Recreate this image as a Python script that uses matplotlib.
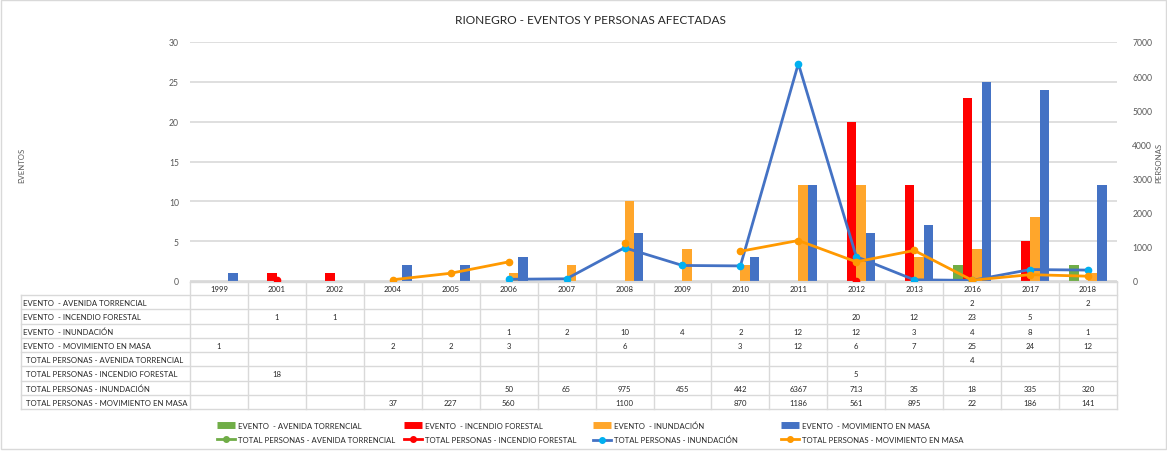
import numpy as np
import matplotlib
matplotlib.use("Agg")
import matplotlib.pyplot as plt
from matplotlib.lines import Line2D
from matplotlib.patches import Rectangle
from matplotlib import font_manager

N = np.nan
years = ["1999", "2001", "2002", "2004", "2005", "2006", "2007", "2008",
         "2009", "2010", "2011", "2012", "2013", "2016", "2017", "2018"]
ev_avenida    = [N, N, N, N, N, N, N, N, N, N, N, N, N, 2, N, 2]
ev_incendio   = [N, 1, 1, N, N, N, N, N, N, N, N, 20, 12, 23, 5, N]
ev_inundacion = [N, N, N, N, N, 1, 2, 10, 4, 2, 12, 12, 3, 4, 8, 1]
ev_movimiento = [1, N, N, 2, 2, 3, N, 6, N, 3, 12, 6, 7, 25, 24, 12]
tp_avenida    = [N, N, N, N, N, N, N, N, N, N, N, N, N, 4, N, N]
tp_incendio   = [N, 18, N, N, N, N, N, N, N, N, N, 5, N, N, N, N]
tp_inundacion = [N, N, N, N, N, 50, 65, 975, 455, 442, 6367, 713, 35, 18, 335, 320]
tp_movimiento = [N, N, N, 37, 227, 560, N, 1100, N, 870, 1186, 561, 895, 22, 186, 141]

row_labels = ["EVENTO  - AVENIDA TORRENCIAL", "EVENTO  - INCENDIO FORESTAL",
              "EVENTO  - INUNDACIÓN", "EVENTO  - MOVIMIENTO EN MASA",
              "TOTAL PERSONAS - AVENIDA TORRENCIAL", "TOTAL PERSONAS - INCENDIO FORESTAL",
              "TOTAL PERSONAS - INUNDACIÓN", "TOTAL PERSONAS - MOVIMIENTO EN MASA"]
legend_labels = ["EVENTO  - AVENIDA TORRENCIAL", "EVENTO  - INCENDIO FORESTAL",
                 "EVENTO  - INUNDACIÓN", "EVENTO  - MOVIMIENTO EN MASA",
                 "TOTAL PERSONAS - AVENIDA TORRENCIAL", "TOTAL PERSONAS - INCENDIO FORESTAL",
                 "TOTAL PERSONAS - INUNDACIÓN", "TOTAL PERSONAS - MOVIMIENTO EN MASA"]

C_GREEN = "#70AD47"
C_RED = "#FF0000"
C_ORANGE = "#FFA62B"
C_BLUE = "#4472C4"
C_ORLINE = "#FF9900"
C_CYAN = "#00B0F0"
GRID = "#D9D9D9"
TXT = "#595959"
DARK = "#262626"

plt.rcParams['font.family'] = ['Lato', 'DejaVu Sans']
available = {f.name for f in font_manager.fontManager.ttflist}
if 'Liberation Sans Narrow' in available:
    SMALL_FAM = ['Liberation Sans Narrow', 'Lato', 'DejaVu Sans']
    SMALL_FS = 6.5
else:
    SMALL_FAM = ['Lato', 'DejaVu Sans']
    SMALL_FS = 5.6

W, H = 1167, 452
fig = plt.figure(figsize=(W / 100, H / 100), dpi=100)
fx = lambda px: px / W
fy = lambda py: 1 - py / H

# chart border
fig.add_artist(Rectangle((fx(1), fy(450)), fx(1165), 449 / H, transform=fig.transFigure,
                         fill=False, edgecolor=GRID, lw=1))

PL, PR, PT, PB = 190, 1117, 43, 282
ax = fig.add_axes([fx(PL), fy(PB), fx(PR - PL), (PB - PT) / H])
n = len(years)
x = np.arange(n)
bw = 0.163
series_ev = [ev_avenida, ev_incendio, ev_inundacion, ev_movimiento]
colors_ev = [C_GREEN, C_RED, C_ORANGE, C_BLUE]
for k, (vals, c) in enumerate(zip(series_ev, colors_ev)):
    ax.bar(x + (k - 1.5) * bw, np.nan_to_num(vals), width=bw, color=c, zorder=2)
ax.set_xlim(-0.5, n - 0.5)
ax.set_ylim(0, 30)
ax.set_yticks(range(0, 31, 5))
ax.yaxis.grid(True, color=GRID, lw=1.2, zorder=0)
ax.set_axisbelow(True)
for s in ax.spines.values():
    s.set_visible(False)
ax.spines['bottom'].set_visible(True)
ax.spines['bottom'].set_color(GRID)
ax.tick_params(axis='x', length=0, labelbottom=False)
ax.tick_params(axis='y', length=0, labelsize=6.2, labelcolor=TXT, pad=8)

ax2 = ax.twinx()
ax2.set_ylim(0, 7000)
ax2.set_yticks(range(0, 7001, 1000))
for s in ax2.spines.values():
    s.set_visible(False)
ax2.tick_params(axis='y', length=0, labelsize=6.2, labelcolor=TXT, pad=11)
ms = 4.5
ax2.plot(x, tp_avenida, color=C_GREEN, lw=2, marker='o', ms=ms, mfc=C_GREEN, mec=C_GREEN, zorder=3)
ax2.plot(x, tp_incendio, color=C_RED, lw=2, marker='o', ms=ms, mfc=C_RED, mec=C_RED, zorder=3)
ax2.plot(x, tp_inundacion, color=C_BLUE, lw=2, marker='o', ms=ms, mfc=C_CYAN, mec=C_CYAN, zorder=3)
ax2.plot(x, tp_movimiento, color=C_ORLINE, lw=2, marker='o', ms=ms, mfc=C_ORLINE, mec=C_ORLINE, zorder=3)

fig.text(fx(590), fy(20), "RIONEGRO - EVENTOS Y PERSONAS AFECTADAS", ha='center', va='center',
         fontsize=8.6, color=DARK)
fig.text(fx(22), fy(165), "EVENTOS", rotation=90, ha='center', va='center',
         fontsize=SMALL_FS, family=SMALL_FAM, color=TXT)
fig.text(fx(1159), fy(163), "PERSONAS", rotation=90, ha='center', va='center',
         fontsize=SMALL_FS, family=SMALL_FAM, color=TXT)

# data table
TL = 21
TT = 283
HH = 13
RH = 14.25
cw = (PR - PL) / n
tab = fig.add_axes([0, 0, 1, 1], zorder=-1)
tab.set_xlim(0, W)
tab.set_ylim(H, 0)
tab.axis('off')
nrows = len(row_labels)
TB = TT + HH + nrows * RH
tab.plot([PL, PR], [TT, TT], color=GRID, lw=1)
for r in range(nrows + 1):
    yy = TT + HH + r * RH
    tab.plot([TL, PR], [yy, yy], color=GRID, lw=1)
tab.plot([TL, TL], [TT + HH, TB], color=GRID, lw=1)
for j in range(n + 1):
    xx = PL + j * cw
    tab.plot([xx, xx], [TT, TB], color=GRID, lw=1)
for j, yr in enumerate(years):
    tab.text(PL + (j + 0.5) * cw, TT + HH / 2 + 0.5, yr, ha='center', va='center',
             fontsize=SMALL_FS, family=SMALL_FAM, color=DARK)
table_series = series_ev + [tp_avenida, tp_incendio, tp_inundacion, tp_movimiento]
for r, (lab, vals) in enumerate(zip(row_labels, table_series)):
    yc = TT + HH + (r + 0.5) * RH + 0.5
    xl = TL + 2 if r < 4 else TL + 5
    tab.text(xl, yc, lab, ha='left', va='center', fontsize=SMALL_FS, family=SMALL_FAM, color=DARK)
    for j, v in enumerate(vals):
        if not np.isnan(v):
            tab.text(PL + (j + 0.5) * cw, yc, f"{int(v)}", ha='center', va='center',
                     fontsize=SMALL_FS, family=SMALL_FAM, color=DARK)

# legend
bar_h = [Line2D([], [], color=c, lw=5, solid_capstyle='butt') for c in colors_ev]
line_h = [Line2D([], [], color=C_GREEN, lw=2, marker='o', ms=4, mfc=C_GREEN, mec=C_GREEN),
          Line2D([], [], color=C_RED, lw=2, marker='o', ms=4, mfc=C_RED, mec=C_RED),
          Line2D([], [], color=C_BLUE, lw=2, marker='o', ms=4, mfc=C_CYAN, mec=C_CYAN),
          Line2D([], [], color=C_ORLINE, lw=2, marker='o', ms=4, mfc=C_ORLINE, mec=C_ORLINE)]
col_x = [217, 404, 593, 781]
for k in range(4):
    fig.legend(handles=[bar_h[k], line_h[k]], labels=[legend_labels[k], legend_labels[k + 4]],
               loc='center left', bbox_to_anchor=(fx(col_x[k]), fy(433.5)), frameon=False,
               prop={'family': SMALL_FAM, 'size': SMALL_FS},
               handlelength=2.3, handletextpad=0.35, labelspacing=0.85,
               borderpad=0, borderaxespad=0, labelcolor=DARK)

fig.savefig("out.png", dpi=100)
